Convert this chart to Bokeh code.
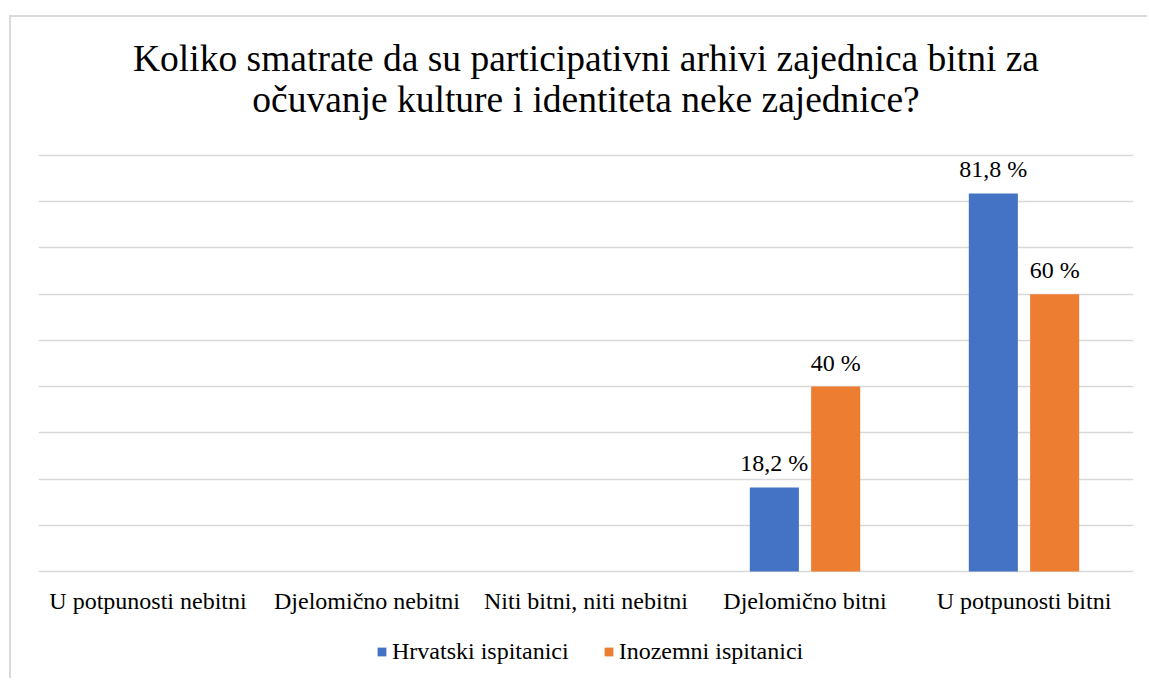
from bokeh.plotting import figure
from bokeh.models import ColumnDataSource, Range1d, Legend, LegendItem, FixedTicker
from bokeh.transform import dodge
from bokeh.embed import file_html
from bokeh.resources import INLINE
from bokeh.core.properties import value

categories = ["U potpunosti nebitni", "Djelomično nebitni", "Niti bitni, niti nebitni",
              "Djelomično bitni", "U potpunosti bitni"]
hrvatski = [0, 0, 0, 18.2, 81.8]
inozemni = [0, 0, 0, 40, 60]
hrvatski_labels = ["", "", "", "18,2 %", "81,8 %"]
inozemni_labels = ["", "", "", "40 %", "60 %"]
series_names = ["Hrvatski ispitanici", "Inozemni ispitanici"]
series_colors = ["#4472C4", "#ED7D31"]
grid_ticks = [0, 10, 20, 30, 40, 50, 60, 70, 80, 90]
title_lines = ["Koliko smatrate da su participativni arhivi zajednica bitni za",
               "očuvanje kulture i identiteta neke zajednice?"]

FONT = "Liberation Serif"
TXT = "24px"

source = ColumnDataSource(dict(cat=categories, hrv=hrvatski, ino=inozemni,
                               hrv_lbl=hrvatski_labels, ino_lbl=inozemni_labels))

# the frame spans the whole chart box; the value axis runs 0..90 inside it
p = figure(x_range=categories, y_range=Range1d(-22.5, 119.86), width=1138, height=663,
           output_backend="svg", toolbar_location=None,
           min_border_left=27, min_border_right=16, min_border_top=0, min_border_bottom=5)
p.styles = {"border-top": "2px solid #d9d9d9", "border-left": "2px solid #d9d9d9",
            "margin-top": "15px", "margin-left": "9px"}

# chart title (two centred lines above the top gridline)
mid_cat = categories[len(categories) // 2]
p.text(x=[mid_cat], y=[grid_ticks[-1]], text=[title_lines[0]],
       text_font=value(FONT), text_font_size="37.5px", text_align="center",
       text_baseline="middle", y_offset=-97, text_color="black")
p.text(x=[mid_cat], y=[grid_ticks[-1]], text=[title_lines[1]],
       text_font=value(FONT), text_font_size="37.5px", text_align="center",
       text_baseline="middle", y_offset=-56, text_color="black")

off = 0.14
bw = 0.224
r1 = p.vbar(x=dodge("cat", -off, range=p.x_range), top="hrv", bottom=0, width=bw, source=source,
            fill_color=series_colors[0], line_color=None)
r2 = p.vbar(x=dodge("cat", off, range=p.x_range), top="ino", bottom=0, width=bw, source=source,
            fill_color=series_colors[1], line_color=None)

p.text(x=dodge("cat", -off, range=p.x_range), y="hrv", text="hrv_lbl", source=source,
       text_font=value(FONT), text_font_size=TXT, text_align="center",
       text_baseline="middle", y_offset=-24, text_color="black")
p.text(x=dodge("cat", off, range=p.x_range), y="ino", text="ino_lbl", source=source,
       text_font=value(FONT), text_font_size=TXT, text_align="center",
       text_baseline="middle", y_offset=-24, text_color="black")

# category labels under the baseline
p.text(x="cat", y=0, text="cat", source=source,
       text_font=value(FONT), text_font_size=TXT, text_align="center",
       text_baseline="middle", y_offset=29, text_color="black")

p.xgrid.visible = False
p.ygrid.ticker = FixedTicker(ticks=grid_ticks)
p.ygrid.grid_line_color = "#d9d9d9"
p.ygrid.grid_line_width = 1.7
p.yaxis.visible = False
p.xaxis.visible = False
p.outline_line_color = None

legend = Legend(items=[LegendItem(label=series_names[0], renderers=[r1]),
                       LegendItem(label=series_names[1], renderers=[r2])],
                orientation="horizontal", location=(338, 10),
                label_text_font=FONT, label_text_font_size=TXT, label_text_color="black",
                glyph_width=11, glyph_height=11, label_standoff=5, spacing=34,
                border_line_color=None, background_fill_alpha=0, padding=0, margin=0)
p.add_layout(legend)

open("out.html", "w").write(file_html(p, INLINE))
